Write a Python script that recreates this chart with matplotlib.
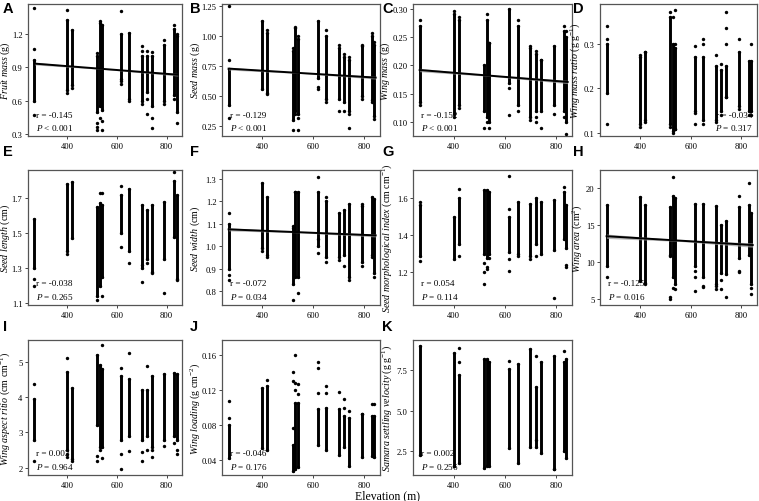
import matplotlib
matplotlib.use("Agg")
import matplotlib.pyplot as plt
import numpy as np

plt.rcParams['font.family'] = ['Liberation Serif', 'DejaVu Serif']
plt.rcParams['mathtext.fontset'] = 'custom'
plt.rcParams['mathtext.rm'] = 'Liberation Serif'
plt.rcParams['mathtext.it'] = 'Liberation Serif:italic'

# sampling sites (elevation, m)
sites = [268, 400, 420, 520, 530, 540, 617, 650, 700, 720, 740, 790, 830, 840]

# A fruit mass
fruit_lo = [0.60, 0.70, 0.74, 0.50, 0.55, 0.52, 0.80, 0.62, 0.60, 0.68, 0.55, 0.60, 0.65, 0.50]
fruit_hi = [0.97, 1.33, 1.24, 1.00, 1.30, 1.28, 1.20, 1.21, 1.00, 1.00, 1.00, 1.10, 1.25, 1.18]
fruit_out = [[1.43, 1.07, 0.47], [1.42, 0.67], [0.72], [0.40, 0.37, 1.03, 0.34], [0.45, 1.32],
             [0.34, 0.42], [1.41, 0.78, 0.75], [0.60], [0.57, 1.09, 1.05], [1.05, 0.48, 0.62],
             [0.45, 0.36, 1.04], [0.57, 1.15], [1.28, 0.62], [0.40, 1.20]]
# B seed mass
seed_lo = [0.43, 0.56, 0.53, 0.30, 0.38, 0.35, 0.65, 0.48, 0.48, 0.45, 0.38, 0.50, 0.47, 0.33]
seed_hi = [0.73, 1.13, 1.03, 0.88, 1.07, 0.98, 1.13, 1.00, 0.90, 0.83, 0.80, 0.92, 1.00, 0.93]
seed_out = [[1.25, 0.80, 0.32], [], [0.52, 1.05], [0.22, 0.90], [0.35, 1.08], [0.22, 0.32, 1.0],
            [0.56, 0.58], [0.45, 1.05], [0.38, 0.93], [0.38, 0.85], [0.23, 0.35, 0.83],
            [0.48, 0.93], [1.03, 0.45], [0.31, 0.95]]
# C wing mass
wing_lo = [0.135, 0.115, 0.13, 0.12, 0.11, 0.10, 0.17, 0.13, 0.11, 0.12, 0.12, 0.13, 0.12, 0.10]
wing_hi = [0.27, 0.29, 0.28, 0.20, 0.28, 0.24, 0.30, 0.27, 0.23, 0.22, 0.21, 0.235, 0.26, 0.25]
wing_out = [[0.28, 0.13], [0.295, 0.11], [0.285, 0.125], [0.09], [0.29, 0.10], [0.09, 0.24],
            [0.113, 0.16], [0.28, 0.12], [0.105, 0.235], [0.10, 0.225, 0.11], [0.09, 0.21],
            [0.115], [0.27, 0.11], [0.08, 0.26]]
# D wing mass ratio
ratio_lo = [0.19, 0.12, 0.13, 0.12, 0.105, 0.11, 0.15, 0.13, 0.13, 0.15, 0.18, 0.16, 0.15, 0.15]
ratio_hi = [0.30, 0.27, 0.28, 0.36, 0.30, 0.29, 0.27, 0.27, 0.25, 0.24, 0.25, 0.28, 0.26, 0.26]
ratio_out = [[0.34, 0.12, 0.31], [0.115, 0.275], [0.125, 0.28], [0.37, 0.115], [0.36, 0.10],
             [0.375, 0.30, 0.11], [0.295, 0.12, 0.145], [0.31, 0.12, 0.30], [0.125, 0.275],
             [0.14, 0.255], [0.37, 0.335, 0.30, 0.18], [0.31, 0.155], [0.14], [0.30, 0.14]]
# E seed length
slen_lo = [1.30, 1.40, 1.47, 1.14, 1.20, 1.25, 1.50, 1.40, 1.30, 1.35, 1.28, 1.35, 1.48, 1.24]
slen_hi = [1.58, 1.78, 1.79, 1.65, 1.67, 1.66, 1.72, 1.75, 1.66, 1.63, 1.66, 1.68, 1.80, 1.72]
slen_out = [[1.24, 1.20], [1.38], [], [1.12], [1.73], [1.73, 1.14], [1.77, 1.42], [1.33],
            [1.22, 1.32], [1.33], [1.27], [1.16], [1.85], [1.23]]
# F seed width
swid_lo = [0.90, 0.99, 0.96, 0.83, 0.86, 0.86, 1.00, 0.95, 0.95, 0.96, 0.86, 0.93, 0.96, 0.88]
swid_hi = [1.10, 1.28, 1.22, 1.08, 1.24, 1.24, 1.24, 1.20, 1.15, 1.16, 1.19, 1.18, 1.22, 1.21]
swid_out = [[1.15, 0.87, 0.85], [0.98], [0.95], [0.76, 1.09], [1.24], [0.79], [1.31, 0.97, 1.03],
            [0.93, 1.22], [0.94], [0.91], [0.85], [0.91, 1.19], [0.95], [0.86]]
# G seed morphological index
smi_lo = [1.29, 1.27, 1.35, 1.30, 1.28, 1.30, 1.31, 1.30, 1.29, 1.35, 1.30, 1.32, 1.38, 1.33]
smi_hi = [1.56, 1.50, 1.60, 1.64, 1.64, 1.63, 1.50, 1.58, 1.57, 1.60, 1.58, 1.59, 1.63, 1.56]
smi_out = [[1.26, 1.58], [], [1.29, 1.65], [1.14, 1.20, 1.25], [1.23, 1.22], [1.28],
           [1.72, 1.21, 1.27, 1.54], [1.29], [1.27], [1.29], [], [1.06], [1.66], [1.23, 1.24]]
# H wing area
area_lo = [9.5, 7.5, 7.2, 11.0, 8.0, 7.0, 9.5, 8.0, 7.0, 8.5, 8.3, 10.5, 11.0, 7.0]
area_hi = [17.8, 18.8, 17.7, 17.5, 18.9, 18.7, 17.9, 17.9, 17.6, 15.0, 15.5, 17.5, 17.8, 16.6]
area_out = [[7.9], [7.4], [7.0], [4.9, 5.2, 10.8], [21.6, 6.5], [6.3], [6.1, 8.0, 8.8],
            [6.6, 6.8], [6.3, 6.8], [6.3, 7.5], [5.3], [19.0, 8.6, 8.8], [20.8], [5.6, 6.4]]
# I wing aspect ratio
asp_lo = [2.80, 2.50, 2.25, 3.20, 2.60, 2.60, 2.80, 2.90, 2.80, 2.90, 2.60, 2.80, 2.90, 2.80]
asp_hi = [3.95, 4.70, 4.25, 5.20, 4.90, 4.80, 4.60, 4.50, 4.20, 4.20, 4.60, 4.65, 4.68, 4.65]
asp_out = [[4.37, 2.20], [5.10, 2.40, 2.30], [2.20], [2.20, 2.33], [2.50], [5.48, 2.28],
           [4.82, 2.40, 1.97], [5.23, 2.47], [2.20, 2.45], [4.87, 2.50], [2.30, 2.50], [2.62],
           [2.70], [2.40, 2.50]]
# J wing loading
load_lo = [0.043, 0.054, 0.052, 0.028, 0.030, 0.032, 0.057, 0.052, 0.046, 0.055, 0.034, 0.044, 0.045, 0.044]
load_hi = [0.080, 0.122, 0.125, 0.058, 0.105, 0.105, 0.098, 0.100, 0.098, 0.090, 0.088, 0.093, 0.090, 0.090]
load_out = [[0.107, 0.088], [], [0.132], [0.14, 0.13, 0.077], [0.16, 0.128, 0.12], [0.127, 0.116],
            [0.152, 0.145, 0.117], [0.125, 0.117], [0.118], [0.11, 0.10], [0.096], [0.093],
            [0.104], [0.104]]
# K samara settling velocity
vel_lo = [2.3, 1.6, 1.8, 1.5, 1.6, 1.6, 2.7, 1.8, 2.8, 2.8, 2.4, 1.4, 2.5, 2.1]
vel_hi = [9.0, 8.6, 7.2, 8.2, 8.2, 8.0, 7.6, 7.9, 8.8, 6.5, 8.0, 8.4, 8.0, 8.2]
vel_out = [[], [1.6], [8.9, 8.0], [], [], [], [8.1], [], [], [8.4, 3.2], [], [1.4], [8.7], []]

# regression line values at the two ends of the elevation range
fit_ends = {'A': (0.935, 0.835), 'B': (0.73, 0.655), 'C': (0.192, 0.171),
            'F': (1.075, 1.048), 'H': (13.5, 12.3)}
fit_ci = {'A': 0.012, 'B': 0.012, 'C': 0.003, 'F': 0.007, 'H': 0.3}

stats = {'A': ('r = -0.145', '< 0.001'), 'B': ('r = -0.129', '< 0.001'),
         'C': ('r = -0.152', '< 0.001'), 'D': ('r = -0.034', '= 0.317'),
         'E': ('r = -0.038', '= 0.265'), 'F': ('r = -0.072', '= 0.034'),
         'G': ('r = 0.054', '= 0.114'), 'H': ('r = -0.125', '= 0.016'),
         'I': ('r = 0.002', '= 0.964'), 'J': ('r = -0.046', '= 0.176'),
         'K': ('r = 0.002', '= 0.256')}

panels = [
    ('A', r'$\mathit{Fruit\ mass}$ (g)', fruit_lo, fruit_hi, fruit_out, (0.285, 1.47), [0.3, 0.6, 0.9, 1.2], '%.1f'),
    ('B', r'$\mathit{Seed\ mass}$ (g)', seed_lo, seed_hi, seed_out, (0.167, 1.27), [0.25, 0.5, 0.75, 1.0, 1.25], '%.2f'),
    ('C', r'$\mathit{Wing\ mass}$ (g)', wing_lo, wing_hi, wing_out, (0.076, 0.308), [0.10, 0.15, 0.20, 0.25, 0.30], '%.2f'),
    ('D', r'$\mathit{Wing\ mass\ ratio}$ (g g$^{-1}$)', ratio_lo, ratio_hi, ratio_out, (0.094, 0.388), [0.1, 0.2, 0.3], '%.1f'),
    ('E', r'$\mathit{Seed\ length}$ (cm)', slen_lo, slen_hi, slen_out, (1.09, 1.86), [1.1, 1.3, 1.5, 1.7], '%.1f'),
    ('F', r'$\mathit{Seed\ width}$ (cm)', swid_lo, swid_hi, swid_out, (0.737, 1.34), [0.8, 0.9, 1.0, 1.1, 1.2, 1.3], '%.1f'),
    ('G', r'$\mathit{Seed\ morphological\ index}$ (cm cm$^{-1}$)', smi_lo, smi_hi, smi_out, (1.025, 1.75), [1.2, 1.4, 1.6], '%.1f'),
    ('H', r'$\mathit{Wing\ area}$ (cm$^{2}$)', area_lo, area_hi, area_out, (4.15, 22.5), [5, 10, 15, 20], '%d'),
    ('I', r'$\mathit{Wing\ aspect\ ritio}$ (cm cm$^{-1}$)', asp_lo, asp_hi, asp_out, (1.8, 5.61), [2, 3, 4, 5], '%d'),
    ('J', r'$\mathit{Wing\ loading}$ (g cm$^{-2}$)', load_lo, load_hi, load_out, (0.0233, 0.177), [0.04, 0.08, 0.12, 0.16], '%.2f'),
    ('K', r'$\mathit{Samara\ settling\ velocity}$ (g g$^{-1}$)', vel_lo, vel_hi, vel_out, (1.04, 9.38), [2.5, 5.0, 7.5], '%.1f'),
]

# distance (px) from axes left edge to y-label centre
label_off = [22.5, 27, 28, 25, 22.5, 27, 26, 23, 22.5, 27, 26]

W, H = 759, 502
fig = plt.figure(figsize=(W / 100, H / 100), dpi=100)

col_x = [(28, 182), (222, 380), (413, 572), (600, 757)]
row_y = [(5, 137), (171, 306), (341, 476)]
letter_x = [3, 190, 382, 573]
letter_y = [9, 152, 327]

for i, (tag, ylab, lo, hi, out, ylim, yt, fmt) in enumerate(panels):
    r, c = divmod(i, 4)
    x0, x1 = col_x[c]
    y0, y1 = row_y[r]
    ax = fig.add_axes([x0 / W, 1 - y1 / H, (x1 - x0) / W, (y1 - y0) / H])

    # dense part of each column
    ax.vlines(sites, lo, hi, color='black', lw=2.1, capstyle='round', zorder=2)
    ax.scatter(sites, lo, s=6, color='black', zorder=3, lw=0)
    ax.scatter(sites, hi, s=6, color='black', zorder=3, lw=0)
    for s, pts in zip(sites, out):
        if pts:
            ax.scatter([s] * len(pts), pts, s=6, color='black', zorder=3, lw=0)

    if tag in fit_ends:
        xs = np.linspace(sites[0], 845, 50)
        ya, yb = fit_ends[tag]
        yfit = ya + (yb - ya) * (xs - xs[0]) / (xs[-1] - xs[0])
        xm = xs.mean()
        hw = fit_ci[tag] * (0.35 + 0.65 * np.abs(xs - xm) / (xs[-1] - xm))
        ax.fill_between(xs, yfit - hw, yfit + hw, color='#9a9a9a', alpha=0.7, lw=0, zorder=4)
        ax.plot(xs, yfit, color='black', lw=1.4, zorder=5)

    ax.set_xlim(242, 862)
    ax.set_ylim(*ylim)
    ax.set_xticks([400, 600, 800])
    ax.set_yticks(yt)
    ax.set_yticklabels([fmt % v for v in yt])
    ax.tick_params(labelsize=6.2, length=2.5, width=0.7, color='#444444', pad=1.5)
    for sp in ax.spines.values():
        sp.set_color('#555555')
        sp.set_linewidth(0.9)
    ax.set_ylabel(ylab, fontsize=7.2, va='center')
    ax.yaxis.set_label_coords(-label_off[i] / (x1 - x0), 0.5)

    rtxt, ptxt = stats[tag]
    if tag == 'D':
        ax.text(0.97, 0.13, rtxt, transform=ax.transAxes, fontsize=6.6, ha='right', va='bottom', zorder=6)
        ax.text(0.97, 0.03, r'$\mathit{P}$ ' + ptxt, transform=ax.transAxes, fontsize=6.6, ha='right', va='bottom', zorder=6)
    else:
        ax.text(0.05, 0.13, rtxt, transform=ax.transAxes, fontsize=6.6, ha='left', va='bottom', zorder=6)
        ax.text(0.05, 0.03, r'$\mathit{P}$ ' + ptxt, transform=ax.transAxes, fontsize=6.6, ha='left', va='bottom', zorder=6)

    fig.text(letter_x[c] / W, 1 - letter_y[r] / H, tag, fontsize=10.5, fontweight='bold',
             family='Liberation Sans', ha='left', va='center')

fig.text(387 / W, 1 - 496 / H, 'Elevation (m)', fontsize=8.5, ha='center', va='center')

fig.savefig('out.png', dpi=100)
